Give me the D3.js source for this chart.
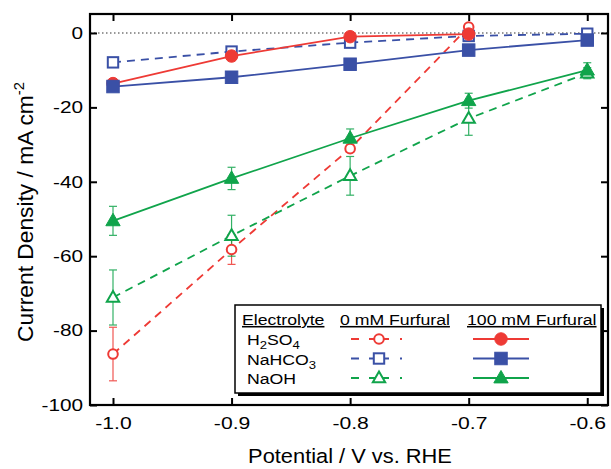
<!DOCTYPE html>
<html lang="en">
<head>
  <meta charset="UTF-8">
  <title>Current Density vs Potential</title>
  <script src="https://d3js.org/d3.v7.min.js"></script>
  <style>
    body { margin: 0; background: #fff; }
    svg { font-family: "Liberation Sans", Arial, Helvetica, sans-serif; }
  </style>
</head>
<body>
  <div id="chart"></div>

  <script>
    // Data
    const potentials = [-1.0, -0.9, -0.8, -0.7, -0.6];
    const xTicks = [-1.0, -0.9, -0.8, -0.7, -0.6];
    const yTicks = [0, -20, -40, -60, -80, -100];

    // 0 mM furfural (open markers, dashed)
    const h2so4_0 = [-86.3, -58.2, -31.1, 1.6, null];
    const h2so4_0_err = [7.2, 4, 1, 0.8, null];
    const nahco3_0 = [-7.9, -5.0, -2.6, -0.8, -0.2];
    const nahco3_0_err = [0.5, 0.5, 0.5, 0.4, 0.3];
    const naoh_0 = [-71.1, -54.5, -38.4, -23.0, -10.8];
    const naoh_0_err = [7.4, 5.5, 5.2, 4.5, 1.5];

    // 100 mM furfural (filled markers, solid)
    const h2so4_100 = [-13.6, -6.2, -1.0, -0.3, null];
    const h2so4_100_err = [0.8, 1.2, 0.6, 0.3, null];
    const nahco3_100 = [-14.4, -11.9, -8.4, -4.6, -1.9];
    const nahco3_100_err = [0.5, 0.5, 0.5, 0.5, 0.5];
    const naoh_100 = [-50.5, -39.1, -28.3, -18.2, -10.0];
    const naoh_100_err = [3.9, 3.0, 2.5, 2.0, 2.0];

    const red = "#ee3a35", blue = "#3a50a6", green = "#10a44b";

    const series = [
      { name: "H2SO4", vals: h2so4_0, err: h2so4_0_err, color: red, shape: "circle", filled: false, dashed: true },
      { name: "NaHCO3", vals: nahco3_0, err: nahco3_0_err, color: blue, shape: "square", filled: false, dashed: true },
      { name: "NaOH", vals: naoh_0, err: naoh_0_err, color: green, shape: "triangle", filled: false, dashed: true },
      { name: "H2SO4", vals: h2so4_100, err: h2so4_100_err, color: red, shape: "circle", filled: true, dashed: false },
      { name: "NaHCO3", vals: nahco3_100, err: nahco3_100_err, color: blue, shape: "square", filled: true, dashed: false },
      { name: "NaOH", vals: naoh_100, err: naoh_100_err, color: green, shape: "triangle", filled: true, dashed: false }
    ];

    const width = 611, height = 469;
    const margin = { top: 14, right: 3, bottom: 64, left: 90 };
    const tickScale = 1.26; // the original lettering is wide

    const svg = d3.select("#chart").append("svg")
      .attr("width", width)
      .attr("height", height);

    const x = d3.scaleLinear()
      .domain([-1.0194, -0.5825])
      .range([margin.left, width - margin.right]);
    const y = d3.scaleLinear()
      .domain([-100, 5.1])
      .range([height - margin.bottom, margin.top]);

    const x0 = x.range()[0], x1 = x.range()[1];
    const y0 = y.range()[0], y1 = y.range()[1];
    const fmtX = d => d3.format(".1f")(d).replace("−", "-");
    const fmtY = d => String(d);

    // zero line
    svg.append("line")
      .attr("x1", x0).attr("x2", x1)
      .attr("y1", y(0)).attr("y2", y(0))
      .attr("stroke", "#777")
      .attr("stroke-width", 1.5)
      .attr("stroke-dasharray", "1.5,2.5");

    // axes with inward ticks on all sides
    svg.append("g")
      .attr("transform", `translate(0,${y0})`)
      .call(d3.axisBottom(x).tickValues(xTicks).tickSize(-7).tickPadding(12).tickFormat(fmtX))
      .call(g => g.select(".domain").remove())
      .call(g => g.selectAll("line").attr("stroke-width", 2))
      .call(g => g.selectAll("text").attr("font-size", 16.8).attr("fill", "#000")
        .attr("transform", `scale(${tickScale},1)`));
    svg.append("g")
      .attr("transform", `translate(0,${y1})`)
      .call(d3.axisTop(x).tickValues(xTicks).tickSize(-7).tickFormat(""))
      .call(g => g.select(".domain").remove())
      .call(g => g.selectAll("line").attr("stroke-width", 2));
    svg.append("g")
      .attr("transform", `translate(${x0},0)`)
      .call(d3.axisLeft(y).tickValues(yTicks).tickSize(-7).tickPadding(5.5).tickFormat(fmtY))
      .call(g => g.select(".domain").remove())
      .call(g => g.selectAll("line").attr("stroke-width", 2))
      .call(g => g.selectAll("text").attr("font-size", 16.5).attr("fill", "#000")
        .attr("transform", `scale(${tickScale},1)`));
    svg.append("g")
      .attr("transform", `translate(${x1},0)`)
      .call(d3.axisRight(y).tickValues(yTicks).tickSize(-7).tickFormat(""))
      .call(g => g.select(".domain").remove())
      .call(g => g.selectAll("line").attr("stroke-width", 2));

    // frame
    svg.append("rect")
      .attr("x", x0).attr("y", y1)
      .attr("width", x1 - x0).attr("height", y0 - y1)
      .attr("fill", "none")
      .attr("stroke", "#000")
      .attr("stroke-width", 2.2);

    // axis titles
    svg.append("text")
      .attr("transform", "translate(350,463) scale(1.12,1)")
      .attr("text-anchor", "middle")
      .attr("font-size", 19.5)
      .text("Potential / V vs. RHE");

    const yl = svg.append("text")
      .attr("transform", `translate(33,212) rotate(-90) scale(1.06,1)`)
      .attr("text-anchor", "middle")
      .attr("font-size", 21.5);
    yl.append("tspan").text("Current Density / mA cm");
    yl.append("tspan").attr("dy", -9).attr("font-size", 14).text("-2");

    function marker(g, shape, cx, cy, color, filled, s) {
      let el;
      if (shape === "circle") {
        el = g.append("circle").attr("cx", cx).attr("cy", cy).attr("r", filled ? s * 0.48 : s * 0.37);
      } else if (shape === "square") {
        const h = filled ? s * 0.48 : s * 0.4;
        el = g.append("rect").attr("x", cx - h).attr("y", cy - h).attr("width", 2 * h).attr("height", 2 * h);
      } else {
        const h = filled ? s * 0.58 : s * 0.5;
        el = g.append("path").attr("d",
          `M${cx},${cy - h}L${cx + h * 0.95},${cy + h * 0.65}L${cx - h * 0.95},${cy + h * 0.65}Z`);
      }
      el.attr("fill", filled ? color : "#fff")
        .attr("stroke", color)
        .attr("stroke-width", filled ? 1 : 2);
    }

    const line = d3.line()
      .defined(d => d.v !== null)
      .x(d => x(d.p))
      .y(d => y(d.v));

    const plot = svg.append("g");

    series.forEach(s => {
      const pts = potentials.map((p, i) => ({ p, v: s.vals[i], e: s.err[i] })).filter(d => d.v !== null);
      // error bars
      pts.forEach(d => {
        const eb = plot.append("g").attr("stroke", s.color).attr("stroke-width", 1.2).attr("opacity", 0.85);
        eb.append("line").attr("x1", x(d.p)).attr("x2", x(d.p)).attr("y1", y(d.v - d.e)).attr("y2", y(d.v + d.e));
        eb.append("line").attr("x1", x(d.p) - 4).attr("x2", x(d.p) + 4).attr("y1", y(d.v - d.e)).attr("y2", y(d.v - d.e));
        eb.append("line").attr("x1", x(d.p) - 4).attr("x2", x(d.p) + 4).attr("y1", y(d.v + d.e)).attr("y2", y(d.v + d.e));
      });
      plot.append("path")
        .datum(pts)
        .attr("fill", "none")
        .attr("stroke", s.color)
        .attr("stroke-width", 1.8)
        .attr("stroke-dasharray", s.dashed ? "8,6" : null)
        .attr("d", line);
    });
    series.forEach(s => {
      potentials.forEach((p, i) => {
        if (s.vals[i] === null) return;
        marker(plot, s.shape, x(p), y(s.vals[i]), s.color, s.filled, 13);
      });
    });

    // legend
    const lg = svg.append("g").attr("transform", "translate(235,305)");
    lg.append("rect").attr("x", 3).attr("y", 3).attr("width", 366).attr("height", 88).attr("fill", "#000");
    lg.append("rect").attr("x", 0).attr("y", 0).attr("width", 366).attr("height", 88)
      .attr("fill", "#fff").attr("stroke", "#000").attr("stroke-width", 1.5);

    const lgScale = 1.14;
    const heads = [["Electrolyte", 7], ["0 mM Furfural", 105], ["100 mM Furfural", 232]];
    heads.forEach(([t, hx]) => {
      lg.append("text").attr("transform", `translate(${hx},20) scale(${lgScale},1)`).attr("font-size", 15.5)
        .attr("text-decoration", "underline").text(t);
    });

    const legendNames = [["H", "2", "SO", "4"], ["NaHCO", "3"], ["NaOH"]];
    legendNames.forEach((parts, r) => {
      const t = lg.append("text")
        .attr("transform", `translate(12,${40 + r * 19.5}) scale(${lgScale},1)`)
        .attr("font-size", 15.5);
      parts.forEach((p, k) => {
        if (k % 2 === 1) t.append("tspan").attr("dy", 4).attr("font-size", 11.5).text(p);
        else t.append("tspan").attr("dy", k === 0 ? 0 : -4).text(p);
      });
    });

    series.forEach((s, i) => {
      const r = i % 3;
      const cy = 34 + r * 19.5;
      const lx = s.dashed ? 116 : 238;
      const g = lg.append("g");
      g.append("line")
        .attr("x1", lx).attr("x2", lx + 56).attr("y1", cy).attr("y2", cy)
        .attr("stroke", s.color).attr("stroke-width", 1.8)
        .attr("stroke-dasharray", s.dashed ? "8,10,20,11,2,10" : null);
      marker(g, s.shape, lx + 28, cy, s.color, s.filled, 13);
    });
  </script>
</body>
</html>
